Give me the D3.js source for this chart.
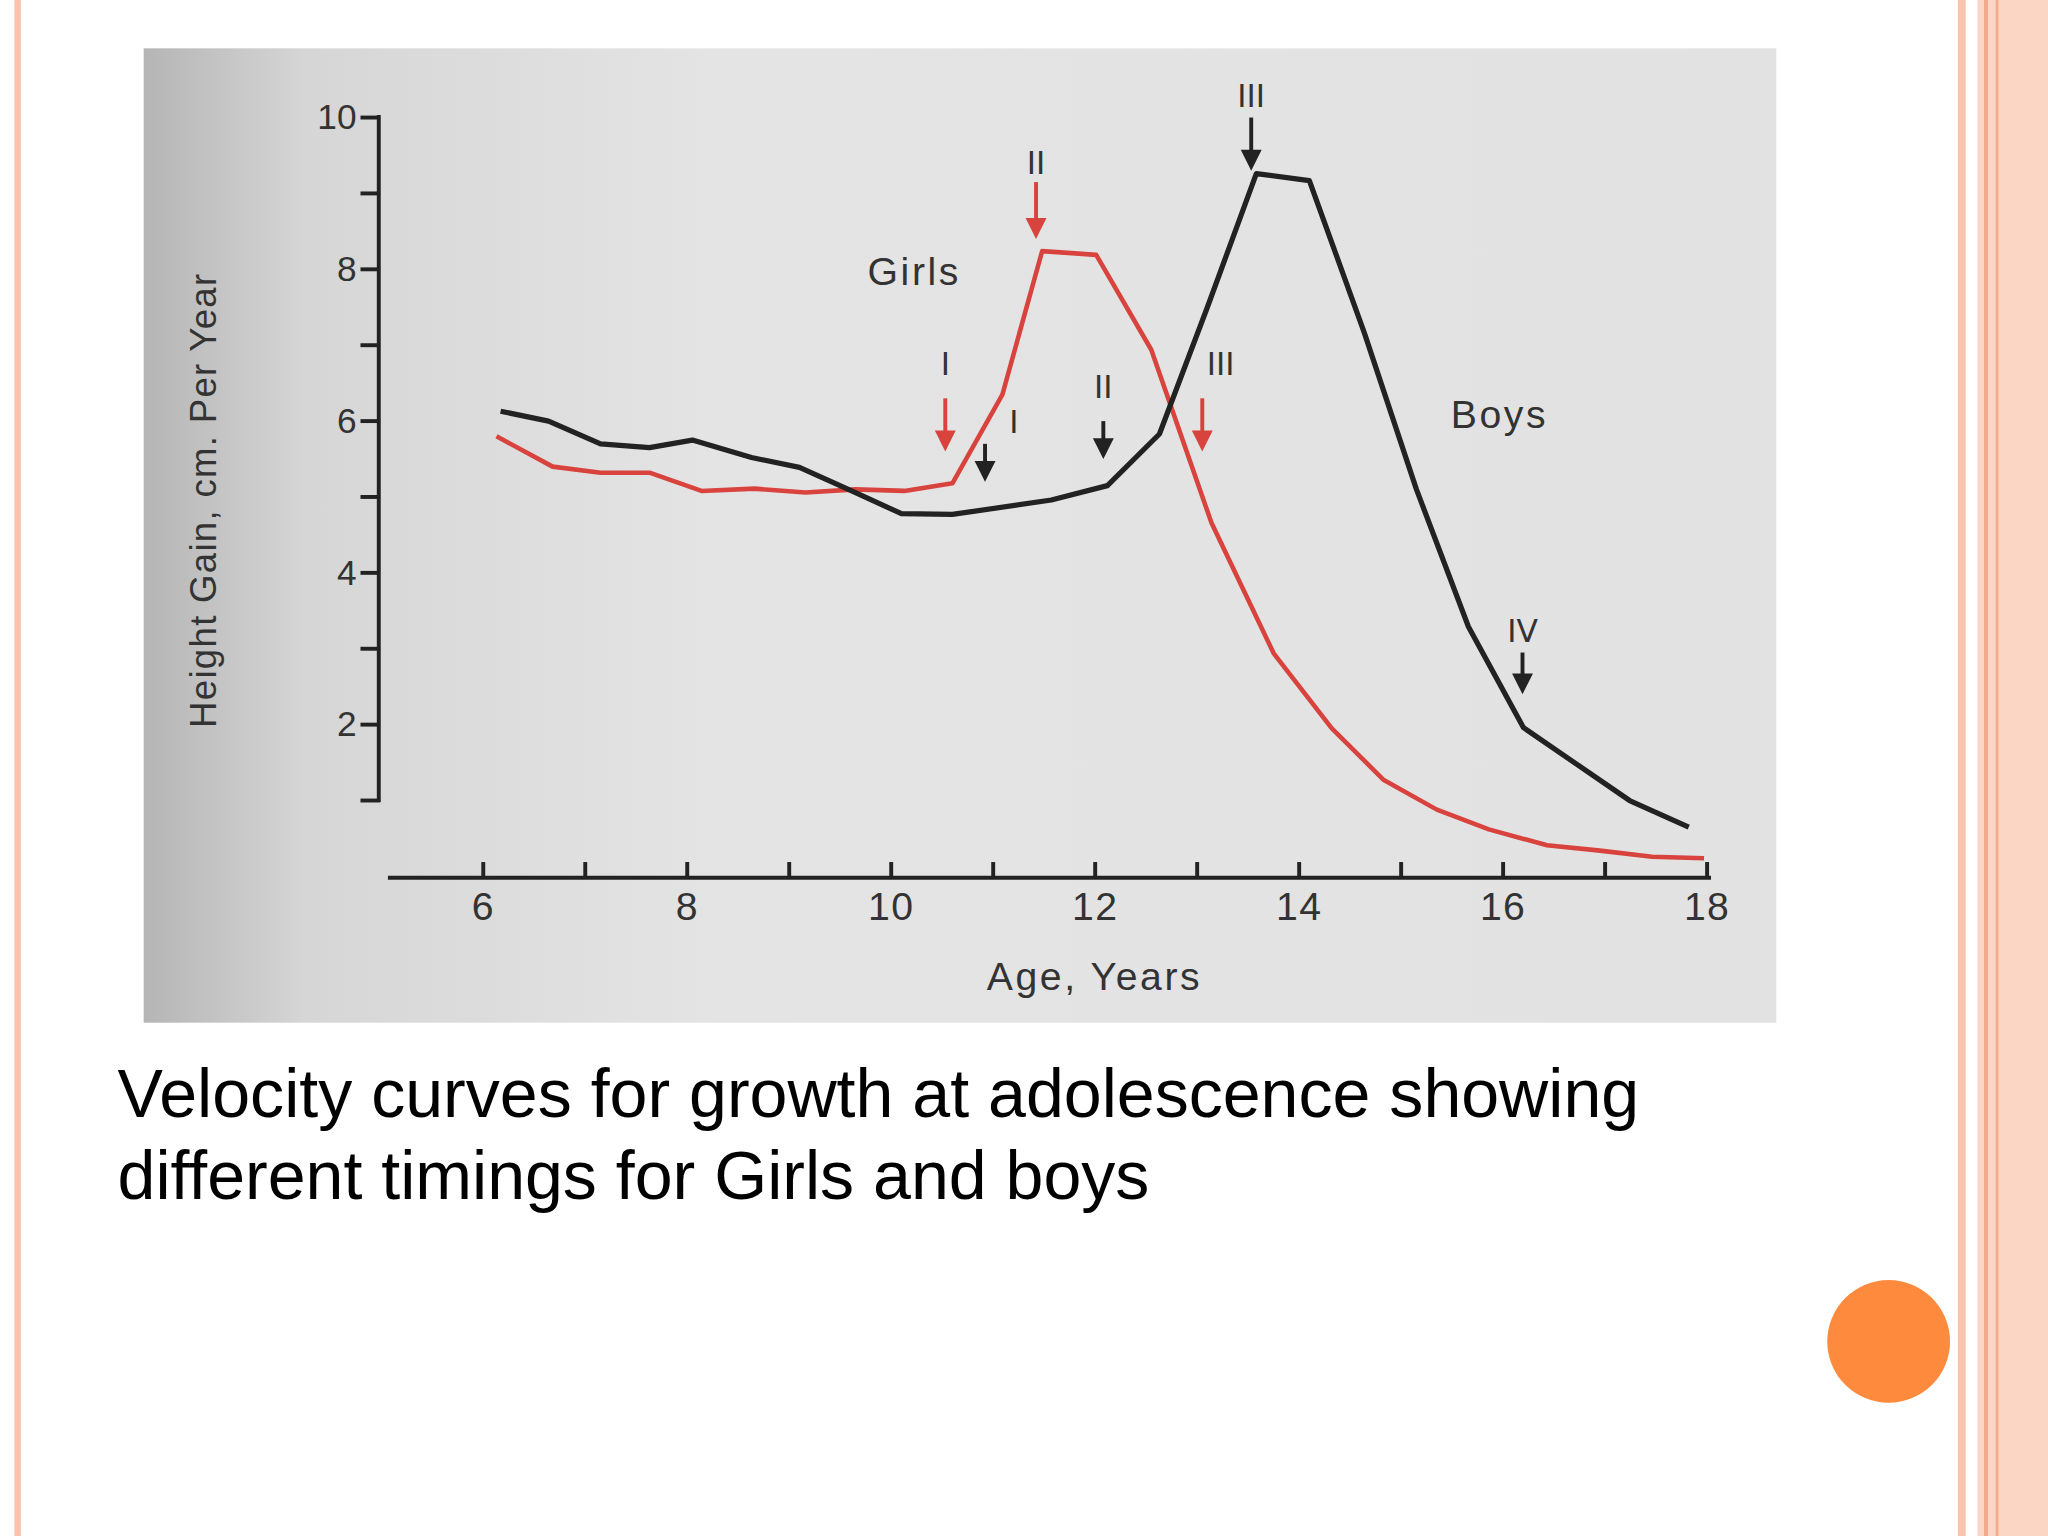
<!DOCTYPE html>
<html>
<head>
<script src="https://d3js.org/d3.v7.min.js"></script>
<style>body{margin:0;background:#fff}</style>
</head>
<body>
<script>
// values
var boysAge = [6.17,6.64,7.15,7.63,8.05,8.63,9.1,9.58,10.1,10.6,11.57,12.12,12.63,13.1,13.58,14.1,14.64,15.15,15.66,16.2,16.72,17.24,17.82];
var boysGain = [6.13,6.0,5.7,5.65,5.75,5.52,5.39,5.1,4.78,4.77,4.96,5.15,5.83,7.5,9.26,9.17,7.16,5.1,3.29,1.96,1.48,1.0,0.65];
var girlsAge = [6.13,6.68,7.15,7.63,8.14,8.66,9.16,9.65,10.13,10.6,11.09,11.48,12.01,12.55,13.14,13.75,14.32,14.83,15.35,15.86,16.43,16.95,17.46,17.97];
var girlsGain = [5.8,5.4,5.32,5.32,5.08,5.11,5.06,5.1,5.08,5.18,6.35,8.24,8.19,6.94,4.66,2.94,1.95,1.27,0.88,0.62,0.41,0.34,0.26,0.24];
var arrowAge = [10.53,11.42,13.05,10.92,12.08,13.53,16.19];
var arrowTop = [6.3,9.15,6.3,5.7,6.0,10.0,2.95];
var arrowBottom = [5.6,8.4,5.6,5.2,5.5,9.3,2.4];
var arrowLabel = ["I","II","III","I","II","III","IV"];
var arrowSeries = ["g","g","g","b","b","b","b"];
var labelDx = [0,0,14,22,0,0,0];
var labelDy = [-18,-6,-18,-8,-18,-8,-8];
var xTicks = d3.range(6, 19, 1);
var yTicks = d3.range(1, 11, 1);

var svg = d3.select("body").append("svg")
    .attr("width", 2048).attr("height", 1536)
    .attr("viewBox", "0 0 1568 1176");

// slide decoration
svg.append("rect").attr("x", 11).attr("y", 0).attr("width", 5).attr("height", 1176).attr("fill", "#f8c4ad");
svg.append("rect").attr("x", 1499).attr("y", 0).attr("width", 6).attr("height", 1176).attr("fill", "#f8c4ad");
svg.append("rect").attr("x", 1514).attr("y", 0).attr("width", 54).attr("height", 1176).attr("fill", "#fcd6c4");
svg.append("rect").attr("x", 1519).attr("y", 0).attr("width", 3).attr("height", 1176).attr("fill", "#f3a98a");
svg.append("rect").attr("x", 1528).attr("y", 0).attr("width", 2).attr("height", 1176).attr("fill", "#f3a98a");
svg.append("circle").attr("cx", 1446).attr("cy", 1027).attr("r", 47).attr("fill", "#fe8b3d");

// scanned paper background
var grad = svg.append("defs").append("linearGradient").attr("id", "paper");
grad.append("stop").attr("offset", "0%").attr("stop-color", "#b5b5b5");
grad.append("stop").attr("offset", "10%").attr("stop-color", "#d6d6d6");
grad.append("stop").attr("offset", "35%").attr("stop-color", "#e4e4e4");
grad.append("stop").attr("offset", "100%").attr("stop-color", "#e2e2e2");
svg.append("rect").attr("x", 110).attr("y", 37).attr("width", 1250).attr("height", 746).attr("fill", "url(#paper)");

var x = d3.scaleLinear().domain([6, 18]).range([370, 1307]);
var y = d3.scaleLinear().domain([0, 10]).range([671, 90]);

var ink = "#222";
var font = "Liberation Sans, Arial";
// axes
svg.append("line").attr("x1", 297).attr("x2", 1310).attr("y1", 672).attr("y2", 672).attr("stroke", ink).attr("stroke-width", 3);
svg.append("line").attr("x1", 290).attr("x2", 290).attr("y1", 88).attr("y2", 614).attr("stroke", ink).attr("stroke-width", 3);

svg.selectAll(".xt").data(xTicks).enter().append("line")
    .attr("x1", d => x(d)).attr("x2", d => x(d)).attr("y1", 672).attr("y2", 660)
    .attr("stroke", ink).attr("stroke-width", 3);
svg.selectAll(".xl").data(xTicks.filter(d => d % 2 === 0)).enter().append("text")
    .attr("x", d => x(d)).attr("y", 704).attr("text-anchor", "middle")
    .attr("font-family", font).attr("font-size", 30).attr("fill", "#333").attr("letter-spacing", 1)
    .text(d => d);

svg.selectAll(".yt").data(yTicks).enter().append("line")
    .attr("x1", 276).attr("x2", 291).attr("y1", d => y(d)).attr("y2", d => y(d))
    .attr("stroke", ink).attr("stroke-width", 3);
svg.selectAll(".yl").data(yTicks.filter(d => d % 2 === 0)).enter().append("text")
    .attr("x", 273).attr("y", d => y(d) + 9).attr("text-anchor", "end")
    .attr("font-family", font).attr("font-size", 27).attr("fill", "#333")
    .text(d => d);

svg.append("text").attr("x", 838).attr("y", 758).attr("text-anchor", "middle")
    .attr("font-family", font).attr("font-size", 30).attr("fill", "#333")
    .attr("letter-spacing", 2).text("Age, Years");
svg.append("text").attr("transform", "translate(165,383) rotate(-90)").attr("text-anchor", "middle")
    .attr("font-family", font).attr("font-size", 28).attr("fill", "#333").attr("letter-spacing", 1)
    .text("Height Gain, cm. Per Year");

// curves
var line = d3.line().x(d => x(d[0])).y(d => y(d[1]));
svg.append("path").datum(d3.zip(girlsAge, girlsGain)).attr("d", line)
    .attr("fill", "none").attr("stroke", "#d9433e").attr("stroke-width", 3.5).attr("stroke-linejoin", "round");
svg.append("path").datum(d3.zip(boysAge, boysGain)).attr("d", line)
    .attr("fill", "none").attr("stroke", "#222").attr("stroke-width", 4).attr("stroke-linejoin", "round");

// arrows with stage labels
arrowAge.forEach(function (a, i) {
    var c = arrowSeries[i] === "g" ? "#d9433e" : "#222";
    var xp = x(a), yt = y(arrowTop[i]), yb = y(arrowBottom[i]);
    svg.append("line").attr("x1", xp).attr("x2", xp).attr("y1", yt).attr("y2", yb - 10)
        .attr("stroke", c).attr("stroke-width", 3);
    svg.append("path").attr("d", "M" + (xp - 8) + "," + (yb - 16) + "L" + (xp + 8) + "," + (yb - 16) + "L" + xp + "," + yb + "Z")
        .attr("fill", c);
    svg.append("text").attr("x", xp + labelDx[i]).attr("y", yt + labelDy[i]).attr("text-anchor", "middle")
        .attr("font-family", "DejaVu Sans, Arial").attr("font-size", 24).attr("fill", "#333")
        .text(arrowLabel[i]);
});

svg.append("text").attr("x", 700).attr("y", 218).attr("text-anchor", "middle")
    .attr("font-family", font).attr("font-size", 30).attr("fill", "#333")
    .attr("letter-spacing", 2).text("Girls");
svg.append("text").attr("x", 1148).attr("y", 328).attr("text-anchor", "middle")
    .attr("font-family", font).attr("font-size", 30).attr("fill", "#333")
    .attr("letter-spacing", 2).text("Boys");

// caption
svg.append("text").attr("x", 90).attr("y", 855).attr("font-family", "Liberation Sans Narrow, Liberation Sans, Arial")
    .attr("font-size", 52).attr("fill", "#000").attr("textLength", 1165).attr("lengthAdjust", "spacingAndGlyphs")
    .text("Velocity curves for growth at adolescence showing");
svg.append("text").attr("x", 90).attr("y", 918).attr("font-family", "Liberation Sans Narrow, Liberation Sans, Arial")
    .attr("font-size", 52).attr("fill", "#000").attr("textLength", 790).attr("lengthAdjust", "spacingAndGlyphs")
    .text("different timings for Girls and boys");
</script>
</body>
</html>
